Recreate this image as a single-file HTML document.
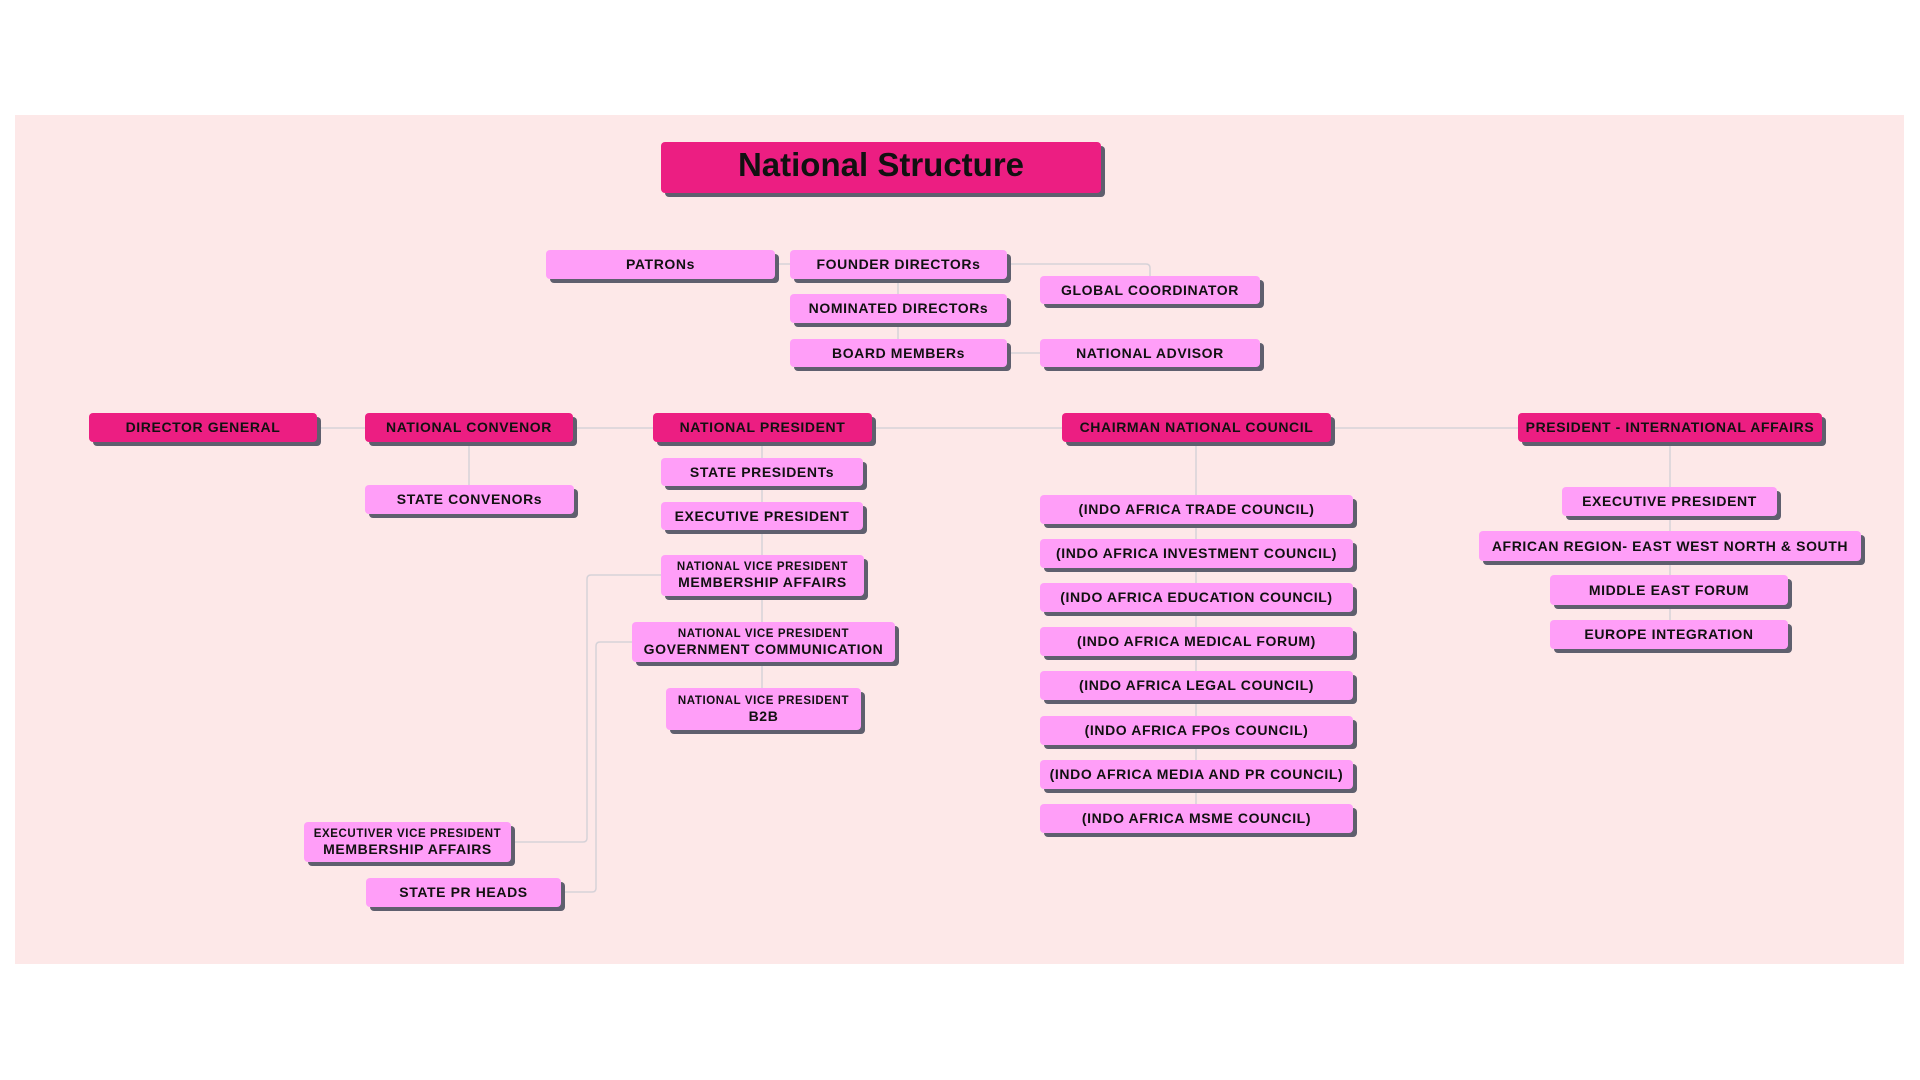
<!DOCTYPE html>
<html><head><meta charset="utf-8"><style>
body{margin:0;width:1920px;height:1080px;background:#fff;position:relative;overflow:hidden;font-family:"Liberation Sans",sans-serif}
.bg{position:absolute;left:15px;top:115px;width:1889px;height:849px;background:#fde8e8}
.b{position:absolute;box-sizing:border-box;border-radius:4px;background:#ff9ef8;box-shadow:4px 4px 0 #5f5f6e;display:flex;flex-direction:column;align-items:center;justify-content:center;font-weight:bold;font-size:14px;letter-spacing:0.6px;color:#111;text-align:center;line-height:17px;white-space:nowrap}
.d{background:#ec1e82}
.s{font-size:11.5px;line-height:14px}
svg{position:absolute;left:0;top:0}
</style></head><body>
<div class="bg"></div>
<svg width="1920" height="1080" fill="none" stroke="#d6d2d8" stroke-width="1.5">
<path d="M775 264H790"/><path d="M1007 264H1146Q1150 264 1150 268V276"/>
<path d="M898 279V339"/><path d="M1007 353H1040"/>
<path d="M317 428H1518"/><path d="M469 442V485"/><path d="M762 442V688"/>
<path d="M1196 442V804"/><path d="M1670 442V620"/>
<path d="M661 575H591Q587 575 587 579V838Q587 842 583 842H511"/>
<path d="M632 642H600Q596 642 596 646V888Q596 892 592 892H561"/>
</svg>
<div class="b d" style="left:661px;top:142px;width:440px;height:51px;justify-content:flex-start;padding-top:4px;font-size:33px;line-height:38px;letter-spacing:0">National Structure</div>
<div class="b" style="left:546px;top:250px;width:229px;height:29px">PATRONs</div>
<div class="b" style="left:790px;top:250px;width:217px;height:29px">FOUNDER DIRECTORs</div>
<div class="b" style="left:790px;top:294px;width:217px;height:29px">NOMINATED DIRECTORs</div>
<div class="b" style="left:790px;top:339px;width:217px;height:28px">BOARD MEMBERs</div>
<div class="b" style="left:1040px;top:276px;width:220px;height:28px">GLOBAL COORDINATOR</div>
<div class="b" style="left:1040px;top:339px;width:220px;height:28px">NATIONAL ADVISOR</div>
<div class="b d" style="left:89px;top:413px;width:228px;height:29px">DIRECTOR GENERAL</div>
<div class="b d" style="left:365px;top:413px;width:208px;height:29px">NATIONAL CONVENOR</div>
<div class="b d" style="left:653px;top:413px;width:219px;height:29px">NATIONAL PRESIDENT</div>
<div class="b d" style="left:1062px;top:413px;width:269px;height:29px">CHAIRMAN NATIONAL COUNCIL</div>
<div class="b d" style="left:1518px;top:413px;width:304px;height:29px">PRESIDENT - INTERNATIONAL AFFAIRS</div>
<div class="b" style="left:365px;top:485px;width:209px;height:29px">STATE CONVENORs</div>
<div class="b" style="left:661px;top:458px;width:202px;height:28px">STATE PRESIDENTs</div>
<div class="b" style="left:661px;top:502px;width:202px;height:28px">EXECUTIVE PRESIDENT</div>
<div class="b" style="left:661px;top:555px;width:203px;height:41px"><span class="s">NATIONAL VICE PRESIDENT</span>MEMBERSHIP AFFAIRS</div>
<div class="b" style="left:632px;top:622px;width:263px;height:40px"><span class="s">NATIONAL VICE PRESIDENT</span>GOVERNMENT COMMUNICATION</div>
<div class="b" style="left:666px;top:688px;width:195px;height:42px"><span class="s">NATIONAL VICE PRESIDENT</span>B2B</div>
<div class="b" style="left:304px;top:822px;width:207px;height:40px"><span class="s">EXECUTIVER VICE PRESIDENT</span>MEMBERSHIP AFFAIRS</div>
<div class="b" style="left:366px;top:878px;width:195px;height:29px">STATE PR HEADS</div>
<div class="b" style="left:1040px;top:495px;width:313px;height:29px">(INDO AFRICA TRADE COUNCIL)</div>
<div class="b" style="left:1040px;top:539px;width:313px;height:29px">(INDO AFRICA INVESTMENT COUNCIL)</div>
<div class="b" style="left:1040px;top:583px;width:313px;height:29px">(INDO AFRICA EDUCATION COUNCIL)</div>
<div class="b" style="left:1040px;top:627px;width:313px;height:29px">(INDO AFRICA MEDICAL FORUM)</div>
<div class="b" style="left:1040px;top:671px;width:313px;height:29px">(INDO AFRICA LEGAL COUNCIL)</div>
<div class="b" style="left:1040px;top:716px;width:313px;height:29px">(INDO AFRICA FPOs COUNCIL)</div>
<div class="b" style="left:1040px;top:760px;width:313px;height:29px">(INDO AFRICA MEDIA AND PR COUNCIL)</div>
<div class="b" style="left:1040px;top:804px;width:313px;height:29px">(INDO AFRICA MSME COUNCIL)</div>
<div class="b" style="left:1562px;top:487px;width:215px;height:29px">EXECUTIVE PRESIDENT</div>
<div class="b" style="left:1479px;top:531px;width:382px;height:30px">AFRICAN REGION- EAST WEST NORTH &amp; SOUTH</div>
<div class="b" style="left:1550px;top:575px;width:238px;height:30px">MIDDLE EAST FORUM</div>
<div class="b" style="left:1550px;top:620px;width:238px;height:29px">EUROPE INTEGRATION</div>
</body></html>
